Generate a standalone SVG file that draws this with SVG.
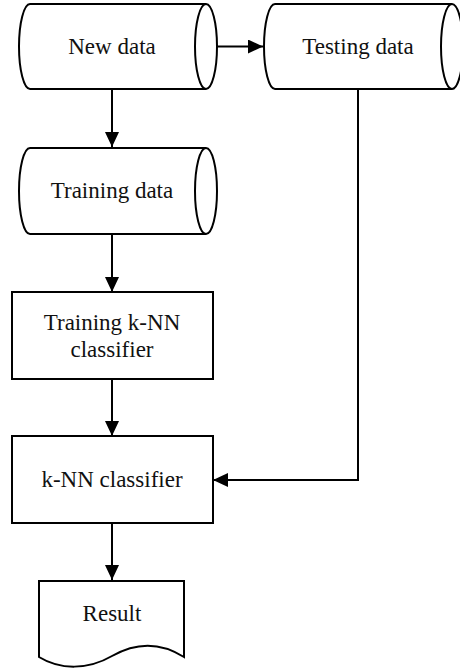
<svg xmlns="http://www.w3.org/2000/svg" width="460" height="670" viewBox="0 0 460 670">
<style>
.s{fill:#fff;stroke:#000;stroke-width:2}
.l{fill:none;stroke:#000;stroke-width:2}
text{font-family:"Liberation Serif","Times New Roman",serif;font-size:23px;fill:#111;text-anchor:middle}
</style>
<defs>
<marker id="a" markerWidth="15" markerHeight="14" refX="15" refY="7" orient="auto" markerUnits="userSpaceOnUse">
<path d="M0,0 L15,7 L0,14 Z" fill="#000"/>
</marker>
</defs>
<g id="connectors">
<line class="l" x1="206" y1="46.5" x2="263" y2="46.5" marker-end="url(#a)"/>
<line class="l" x1="112" y1="89" x2="112" y2="147" marker-end="url(#a)"/>
<line class="l" x1="112" y1="234" x2="112" y2="292" marker-end="url(#a)"/>
<line class="l" x1="112" y1="379" x2="112" y2="436" marker-end="url(#a)"/>
<polyline class="l" points="358,89 358,480 213,480" marker-end="url(#a)"/>
<line class="l" x1="112" y1="523" x2="112" y2="580" marker-end="url(#a)"/>
</g>
<g id="new-data">
<path class="s" d="M30,4 L206,4 A11,42.5 0 0 1 206,89 L30,89 A11,42.5 0 0 1 30,4 Z"/>
<path class="l" d="M206,4 A11,42.5 0 0 0 206,89"/>
<text x="112" y="54">New data</text>
</g>
<g id="testing-data">
<path class="s" d="M275,4 L452,4 A11,42.5 0 0 1 452,89 L275,89 A11,42.5 0 0 1 275,4 Z"/>
<path class="l" d="M452,4 A11,42.5 0 0 0 452,89"/>
<text x="358" y="54">Testing data</text>
</g>
<g id="training-data">
<path class="s" d="M30,148 L206,148 A11,43 0 0 1 206,234 L30,234 A11,43 0 0 1 30,148 Z"/>
<path class="l" d="M206,148 A11,43 0 0 0 206,234"/>
<text x="112" y="198">Training data</text>
</g>
<g id="training-knn">
<rect class="s" x="12" y="292" width="201" height="87"/>
<text x="112" y="330">Training k-NN</text>
<text x="112" y="357">classifier</text>
</g>
<g id="knn">
<rect class="s" x="12" y="436" width="201" height="87"/>
<text x="112" y="487">k-NN classifier</text>
</g>
<g id="result">
<path class="s" d="M39,581 H184 V657 C165,645 140,640 112,656 C88,670 60,670 39,657 Z"/>
<text x="112" y="621">Result</text>
</g>
</svg>
